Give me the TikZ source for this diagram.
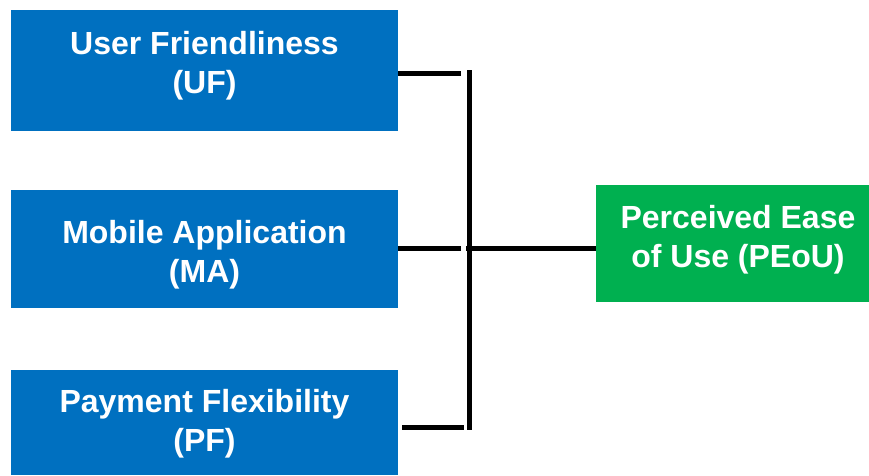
\documentclass[tikz,border=0pt]{standalone}
\usepackage{fontspec}
\setmainfont{Liberation Sans}
\definecolor{boxblue}{HTML}{0070C0}
\definecolor{boxgreen}{HTML}{00B050}
\begin{document}
\begin{tikzpicture}[x=1pt,y=-1pt,
  box/.style={fill=#1,draw=none,inner sep=0pt,anchor=north west},
  lbl/.style={text=white,align=center,font=\fontsize{32}{39}\selectfont\bfseries,inner sep=0pt},
  link/.style={line width=5pt,draw=black}]
\useasboundingbox (0,0) rectangle (869,475);
% factor boxes
\node[box=boxblue,minimum width=387pt,minimum height=121pt] (uf) at (11,10) {};
\node[box=boxblue,minimum width=387pt,minimum height=118pt] (ma) at (11,190) {};
\node[box=boxblue,minimum width=387pt,minimum height=105pt] (pf) at (11,370) {};
\node[box=boxgreen,minimum width=273pt,minimum height=117pt] (peou) at (596,185) {};
\node[lbl] (uft) at (204.5,66) {User Friendliness\\(UF)};
\node[lbl] (mat) at (204.5,255) {Mobile Application\\(MA)};
\node[lbl] (pft) at (204.5,424) {Payment Flexibility\\(PF)};
\node[lbl] (peout) at (738,240) {Perceived Ease\\of Use (PEoU)};
% bus connecting the factors
\coordinate (bustop) at (469,70);
\coordinate (busbot) at (469,430);
\coordinate (j1) at (461,73);
\coordinate (j2) at (461,248);
\coordinate (j2b) at (466,248);
\coordinate (j3) at (464,427);
\draw[link] (bustop) -- (busbot);
\draw[link] (uf.east |- j1) -- (j1);
\draw[link] (ma.east |- j2) -- (j2);
\draw[link] ([xshift=4pt]pf.east |- j3) -- (j3);
\draw[link] (j2b) -- (peou.west |- j2b);
\end{tikzpicture}
\end{document}
